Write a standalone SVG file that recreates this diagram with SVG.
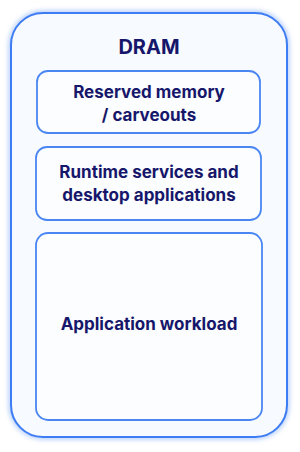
<svg xmlns="http://www.w3.org/2000/svg" width="300" height="452" viewBox="0 0 300 452">
<defs>
<style>
.box{fill:#f7faff;stroke:#3d7cf2;stroke-width:2}
.inner{fill:#fbfdff;stroke:#4a86f2;stroke-width:1.8}
.t{font-family:Inter,"Noto Sans",sans-serif;font-weight:700;fill:#16166a;text-anchor:middle}
</style>
<filter id="glow" x="-10%" y="-10%" width="120%" height="120%">
<feGaussianBlur stdDeviation="2.5"/>
</filter>
</defs>
<rect width="300" height="452" fill="#ffffff"/>
<g id="dram">
<rect x="11" y="13" width="276" height="424" rx="32" fill="none" stroke="#9fc0fa" stroke-width="4" filter="url(#glow)"/>
<rect class="box" x="11" y="13" width="276" height="424" rx="32"/>
<text class="t" x="149" y="54" font-size="20">DRAM</text>
</g>
<g id="reserved">
<rect class="inner" x="37" y="71" width="223" height="62" rx="11"/>
<text class="t" x="149" y="98" font-size="17">Reserved memory</text>
<text class="t" x="149" y="121" font-size="17">/ carveouts</text>
</g>
<g id="runtime">
<rect class="inner" x="36" y="147" width="225" height="73" rx="11"/>
<text class="t" x="149" y="178" font-size="17">Runtime services and</text>
<text class="t" x="149" y="201" font-size="17">desktop applications</text>
</g>
<g id="workload">
<rect class="inner" x="36" y="233" width="226" height="187" rx="12"/>
<text class="t" x="149" y="330" font-size="17">Application workload</text>
</g>
<g id="connectors"/>
</svg>
